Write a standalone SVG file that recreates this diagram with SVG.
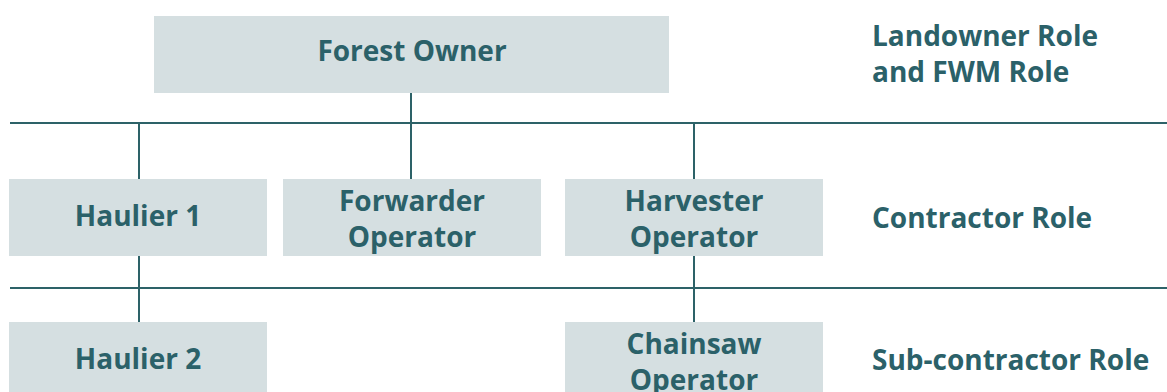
<svg xmlns="http://www.w3.org/2000/svg" width="1167" height="392" viewBox="0 0 1167 392">
<style>
.box{fill:#d5dfe1}
.t{font-family:"Open Sans","Noto Sans","Liberation Sans",sans-serif;font-weight:bold;font-size:28px;fill:#2b6169}
.c{text-anchor:middle}
.ln{stroke:#2d6268;stroke-width:2;fill:none}
</style>
<rect width="1167" height="392" fill="#ffffff"/>
<g id="connectors">
<line class="ln" x1="10" y1="123" x2="1167" y2="123"/>
<line class="ln" x1="10" y1="288" x2="1167" y2="288"/>
<line class="ln" x1="411" y1="92" x2="411" y2="179"/>
<line class="ln" x1="139" y1="123" x2="139" y2="179"/>
<line class="ln" x1="694" y1="123" x2="694" y2="179"/>
<line class="ln" x1="139" y1="255" x2="139" y2="322"/>
<line class="ln" x1="694" y1="255" x2="694" y2="322"/>
</g>
<g id="forest-owner"><rect class="box" x="154" y="16" width="515" height="77"/><text class="t c" x="412" y="61">Forest Owner</text></g>
<g id="haulier1"><rect class="box" x="9" y="179" width="258" height="77"/><text class="t c" x="138" y="226">Haulier 1</text></g>
<g id="forwarder"><rect class="box" x="283" y="179" width="258" height="77"/><text class="t c" x="412" y="211">Forwarder</text><text class="t c" x="412" y="247">Operator</text></g>
<g id="harvester"><rect class="box" x="565" y="179" width="258" height="77"/><text class="t c" x="694" y="211">Harvester</text><text class="t c" x="694" y="247">Operator</text></g>
<g id="haulier2"><rect class="box" x="9" y="322" width="258" height="80"/><text class="t c" x="138" y="369">Haulier 2</text></g>
<g id="chainsaw"><rect class="box" x="565" y="322" width="258" height="80"/><text class="t c" x="694" y="354">Chainsaw</text><text class="t c" x="694" y="390">Operator</text></g>
<g id="roles">
<text class="t" x="872" y="46">Landowner Role</text>
<text class="t" x="872" y="82">and FWM Role</text>
<text class="t" x="872" y="228">Contractor Role</text>
<text class="t" x="872" y="370">Sub-contractor Role</text>
</g>
</svg>
